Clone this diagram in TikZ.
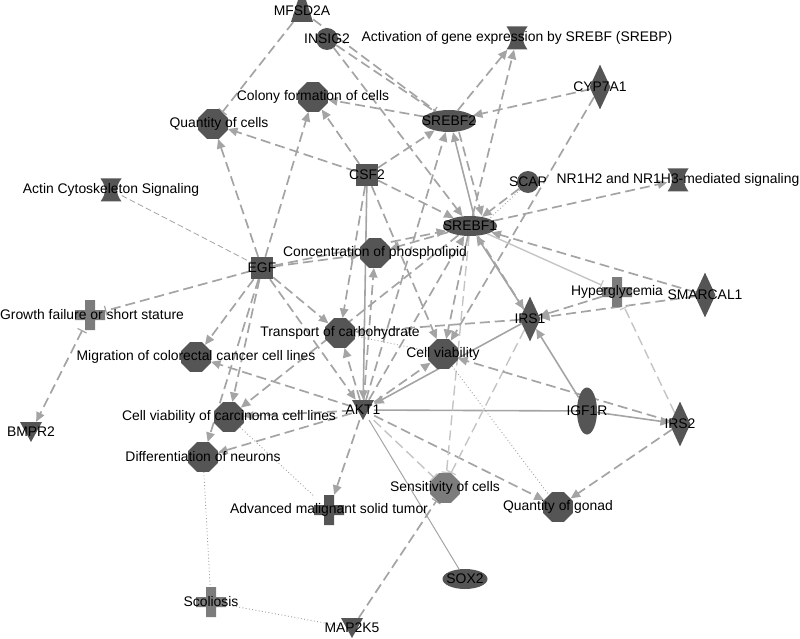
\documentclass[tikz,border=0pt]{standalone}
\usepackage{fontspec}
\setmainfont{Liberation Sans}
\usetikzlibrary{shapes.geometric,arrows.meta}
\pgfdeclarelayer{bg}
\pgfsetlayers{bg,main}
\definecolor{nodedark}{HTML}{555555}
\definecolor{nodelight}{HTML}{7C7C7C}
\definecolor{edgegray}{HTML}{A4A4A4}
\definecolor{edgelight}{HTML}{C4C4C4}
\definecolor{dotgray}{HTML}{A0A0A0}
\tikzset{
 lbl/.style={font=\fontsize{13.9}{16}\selectfont, inner sep=0pt, text=black},
 octo/.style={regular polygon, regular polygon sides=8, minimum size=32pt, inner sep=0pt, fill=#1},
 octo/.default=nodedark,
 sq/.style={rectangle, minimum size=22pt, inner sep=0pt, fill=nodedark},
 circ/.style={circle, minimum size=22pt, inner sep=0pt, fill=nodedark},
 ell/.style 2 args={ellipse, minimum width=#1, minimum height=#2, inner sep=0pt, fill=nodedark},
 dia/.style={diamond, minimum width=21pt, minimum height=45pt, inner sep=0pt, fill=nodedark},
 hourglass/.style={rectangle, minimum width=21pt, minimum height=23pt, inner sep=0pt,
   path picture={\fill[nodedark, shift={(path picture bounding box.center)}]
     (-10.5,-11.5) -- (10.5,-11.5) .. controls (4.5,-3) and (4.5,3) .. (10.5,11.5)
     -- (-10.5,11.5) .. controls (-4.5,3) and (-4.5,-3) .. (-10.5,-11.5) -- cycle;}},
 crossn/.style={rectangle, minimum size=30pt, inner sep=0pt,
   path picture={\fill[#1, shift={(path picture bounding box.center)}]
     (-5,-15) -- (5,-15) -- (5,-5) -- (15,-5) -- (15,5) -- (5,5) -- (5,15)
     -- (-5,15) -- (-5,5) -- (-15,5) -- (-15,-5) -- (-5,-5) -- cycle;}},
 crossn/.default=nodelight,
 tridown/.style={rectangle, minimum width=22pt, minimum height=20pt, inner sep=0pt,
   path picture={\fill[nodedark, shift={(path picture bounding box.center)}]
     (-11,-10) -- (11,-10) -- (0,10) -- cycle;}},
 trapup/.style={rectangle, minimum width=22pt, minimum height=22pt, inner sep=0pt,
   path picture={\fill[nodedark, shift={(path picture bounding box.center)}]
     (-11,11) -- (11,11) -- (4,-11) -- (-4,-11) -- cycle;}},
 dsh/.style={draw=edgegray, line width=1.7pt, dash pattern=on 10pt off 5pt},
 sol/.style={draw=edgegray, line width=1.6pt},
 arr/.style={-{Triangle[length=9.5pt,width=8.5pt]}},
 inh/.style={-{Bar[width=10pt,line width=1.2pt]}},
 lightdsh/.style={draw=edgelight, line width=1.4pt, dash pattern=on 10pt off 5pt},
 thindsh/.style={draw=edgegray, line width=0.8pt, dash pattern=on 6pt off 3pt},
 dotl/.style={draw=dotgray, line width=0.9pt, dash pattern=on 0.9pt off 2.4pt},
}
\begin{document}
\begin{tikzpicture}[x=1pt,y=-1pt]
\useasboundingbox (0,0) rectangle (800,639);
% nodes
\node[trapup, label={[lbl]center:MFSD2A}] (mfsd) at (302,11) {};
\node[circ, label={[lbl]center:INSIG2}] (insig) at (327,39) {};
\node[hourglass, label={[lbl]center:Activation of gene expression by SREBF (SREBP)}] (act) at (517,38) {};
\node[dia, label={[lbl]center:CYP7A1}] (cyp) at (600,87) {};
\node[octo, label={[lbl]center:Colony formation of cells}] (colony) at (313,97) {};
\node[ell={54pt}{22pt}, label={[lbl]center:SREBF2}] (srebf2) at (449,121) {};
\node[octo, label={[lbl,xshift=6pt]center:Quantity of cells}] (qcells) at (213,124) {};
\node[sq, label={[lbl]center:CSF2}] (csf2) at (367,175) {};
\node[hourglass, label={[lbl]center:Actin Cytoskeleton Signaling}] (actin) at (111,190) {};
\node[circ, label={[lbl]center:SCAP}] (scap) at (528,182) {};
\node[hourglass, label={[lbl]center:NR1H2 and NR1H3-mediated signaling}] (nr1h) at (678,180) {};
\node[ell={54pt}{20pt}, label={[lbl]center:SREBF1}] (srebf1) at (470,226) {};
\node[octo, label={[lbl]center:Concentration of phospholipid}] (conc) at (375,253) {};
\node[sq, label={[lbl]center:EGF}] (egf) at (262,268) {};
\node[crossn, label={[lbl]center:Hyperglycemia}] (hyper) at (617,292) {};
\node[dia, label={[lbl]center:SMARCAL1}] (smarcal) at (705,295) {};
\node[dia, label={[lbl]center:IRS1}] (irs1) at (530,319) {};
\node[crossn, label={[lbl,xshift=2pt]center:Growth failure or short stature}] (growth) at (90,315) {};
\node[octo, label={[lbl]center:Transport of carbohydrate}] (transport) at (340,333) {};
\node[octo, label={[lbl]center:Migration of colorectal cancer cell lines}] (migration) at (196,357) {};
\node[octo, label={[lbl]center:Cell viability}] (cellvia) at (443,354) {};
\node[tridown, label={[lbl]center:AKT1}] (akt1) at (363,410) {};
\node[ell={20pt}{47pt}, label={[lbl]center:IGF1R}] (igf1r) at (587,411) {};
\node[dia, label={[lbl]center:IRS2}] (irs2) at (680,424) {};
\node[octo, label={[lbl]center:Cell viability of carcinoma cell lines}] (carcinoma) at (229,417) {};
\node[tridown, label={[lbl]center:BMPR2}] (bmpr2) at (31,432) {};
\node[octo, label={[lbl]center:Differentiation of neurons}] (diff) at (203,457) {};
\node[octo=nodelight, label={[lbl]center:Sensitivity of cells}] (sens) at (445,488) {};
\node[octo, label={[lbl]center:Quantity of gonad}] (gonad) at (558,507) {};
\node[crossn=nodedark, label={[lbl]center:Advanced malignant solid tumor}] (adv) at (329,510) {};
\node[ell={45pt}{20pt}, label={[lbl]center:SOX2}] (sox2) at (465,579) {};
\node[crossn, label={[lbl]center:Scoliosis}] (scol) at (211,602) {};
\node[tridown, label={[lbl]center:MAP2K5}] (map2k5) at (352,628) {};
% edges
\begin{pgfonlayer}{bg}
\draw[dsh,inh] (mfsd) -- (qcells);
\draw[dsh] (mfsd) -- (srebf2);
\draw[dsh,inh] (insig) -- (srebf2);
\draw[dsh,arr] (insig) -- (srebf1);
\draw[dsh,arr] (srebf2) -- (act);
\draw[dsh,arr] (srebf1) -- (act);
\draw[dsh,arr] (cyp) -- (srebf2);
\draw[dsh,arr] (cyp) -- (cellvia);
\draw[dsh,arr] (scap) -- (srebf1);
\draw[dotl] (scap.south west) -- (srebf1.north east);
\draw[dsh,arr] (srebf1) -- (nr1h);
\draw[sol,arr] ([xshift=4pt]srebf1.north) -- ([xshift=4pt]srebf2.south);
\draw[dsh,arr] ([xshift=10pt]srebf2.south) -- ([xshift=12pt]srebf1.north);
\draw[dsh,arr] (srebf2) -- (colony);
\draw[dsh,arr] (csf2) -- (qcells);
\draw[dsh,arr] (csf2) -- (colony);
\draw[dsh,arr] (csf2) -- (srebf2);
\draw[dsh,arr] (csf2) -- (srebf1);
\draw[sol,arr] (csf2) -- (akt1);
\draw[dsh,arr] (csf2) -- (transport);
\draw[dsh,arr] (csf2) -- (cellvia);
\draw[dsh,arr] (egf) -- (qcells);
\draw[dsh,arr] (egf) -- (colony);
\draw[thindsh] (actin) -- (egf);
\draw[dsh,inh] (egf) -- (growth);
\draw[dsh,arr] (egf) -- (conc);
\draw[dsh,arr] (egf) -- (srebf1);
\draw[dsh,arr] (egf) -- (migration);
\draw[dsh,arr] (egf) -- (carcinoma);
\draw[dsh,arr] (egf) -- (diff);
\draw[dsh,arr] (egf) -- (transport);
\draw[dsh,arr] (egf) -- (akt1);
\draw[dsh,arr] (akt1) -- (conc);
\draw[dsh,arr] (srebf1) -- (conc);
\draw[dsh,arr] (akt1) -- (srebf2);
\draw[dsh,arr] (akt1) -- (srebf1);
\draw[dsh,arr] (akt1) -- (transport);
\draw[dsh,arr] (akt1) -- (migration);
\draw[dsh,arr] (akt1) -- (carcinoma);
\draw[dsh,arr] (akt1) -- (diff);
\draw[dsh,arr] (akt1) -- (adv);
\draw[lightdsh,inh] (akt1) -- (sens);
\draw[dsh,arr] (akt1) -- (gonad);
\draw[draw=edgegray, line width=1pt] (akt1) -- (sox2);
\draw[sol] (akt1) -- (igf1r);
\draw[dsh,arr] (akt1) -- (cellvia);
\draw[sol,arr] (irs1) -- (akt1);
\draw[sol,arr] (irs1) -- (srebf1);
\draw[dsh,arr] ([xshift=8pt]srebf1.south) -- (irs1);
\draw[dsh,arr] (irs1) -- (transport);
\draw[lightdsh,inh] (irs1) -- ([xshift=6pt]sens.north);
\draw[lightdsh,inh] (srebf1) -- (sens);
\draw[dsh,arr] (srebf1) -- (cellvia);
\draw[dsh,arr] (srebf1) -- (carcinoma);
\draw[dsh,arr] (smarcal) -- (srebf1);
\draw[dsh,arr] (smarcal) -- (irs1);
\draw[dsh,arr] (hyper) -- (irs1);
\draw[draw=edgelight, line width=1.4pt, inh] (srebf1) -- (hyper);
\draw[lightdsh,inh] (irs2) -- (hyper);
\draw[sol,arr] (igf1r) -- (irs1);
\draw[sol,arr] (igf1r) -- (irs2);
\draw[dsh,arr] (irs2) -- (cellvia);
\draw[dsh,arr] (irs2) -- (gonad);
\draw[dotl] (cellvia) -- (gonad);
\draw[dotl] (transport) -- (cellvia);
\draw[dotl] (carcinoma) -- (adv);
\draw[dotl] (diff) -- (scol);
\draw[dotl] (scol) -- (map2k5);
\draw[dsh,inh] (map2k5) -- (sens);
\draw[dsh,{Bar[width=10pt,line width=1.2pt]}-{Triangle[length=9.5pt,width=8.5pt]}] (growth) -- (bmpr2);
\end{pgfonlayer}
\end{tikzpicture}
\end{document}
